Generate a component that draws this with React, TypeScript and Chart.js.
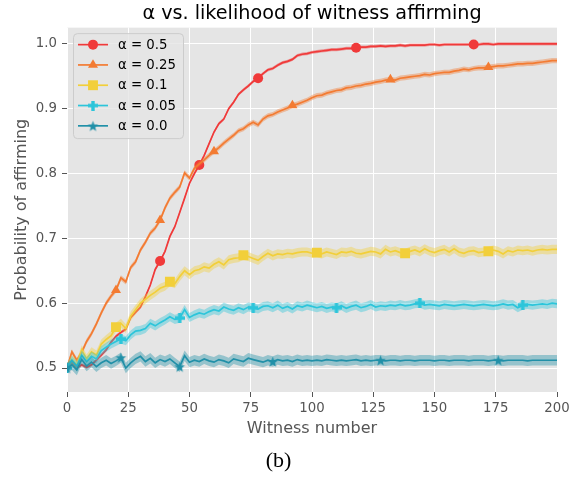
import React, { useEffect, useRef } from 'react';
import { Chart, registerables } from 'chart.js';
import { drawPoint } from 'chart.js/helpers';

Chart.register(...registerables);

// ---------- data ----------
const witnessNumbers: number[] = Array.from({ length: 101 }, (_, i) => i * 2);
const xTickValues = [0, 25, 50, 75, 100, 125, 150, 175, 200];
const yTickValues = [0.5, 0.6, 0.7, 0.8, 0.9, 1.0];

const alpha050 = [
  0.500, 0.508, 0.500, 0.505, 0.501, 0.505, 0.512, 0.520, 0.528, 0.540,
  0.549, 0.555, 0.560, 0.578, 0.586, 0.594, 0.610, 0.628, 0.652, 0.665,
  0.680, 0.703, 0.718, 0.740, 0.762, 0.785, 0.800, 0.813, 0.828, 0.846,
  0.864, 0.877, 0.884, 0.900, 0.910, 0.922, 0.929, 0.935, 0.942, 0.947,
  0.954, 0.960, 0.962, 0.967, 0.971, 0.973, 0.976, 0.982, 0.984, 0.985,
  0.987, 0.988, 0.989, 0.990, 0.991, 0.991, 0.992, 0.993, 0.993, 0.994,
  0.995, 0.995, 0.996, 0.996, 0.997, 0.996, 0.997, 0.997, 0.998, 0.997,
  0.998, 0.998, 0.998, 0.998, 0.999, 0.999, 0.998, 0.999, 0.999, 0.999,
  0.999, 0.999, 0.999, 0.999, 0.999, 1.000, 1.000, 0.999, 1.000, 1.000,
  1.000, 1.000, 1.000, 1.000, 1.000, 1.000, 1.000, 1.000, 1.000, 1.000,
  1.000,
];

const alpha025 = [
  0.500, 0.525, 0.512, 0.524, 0.541, 0.553, 0.568, 0.585, 0.600, 0.611,
  0.620, 0.639, 0.633, 0.655, 0.664, 0.682, 0.694, 0.708, 0.716, 0.728,
  0.747, 0.762, 0.771, 0.779, 0.801, 0.793, 0.808, 0.815, 0.821, 0.828,
  0.834, 0.840, 0.847, 0.853, 0.859, 0.866, 0.869, 0.875, 0.879, 0.875,
  0.884, 0.889, 0.891, 0.895, 0.898, 0.901, 0.905, 0.907, 0.910, 0.913,
  0.917, 0.920, 0.921, 0.924, 0.926, 0.928, 0.929, 0.932, 0.933, 0.935,
  0.936, 0.938, 0.939, 0.941, 0.942, 0.944, 0.945, 0.944, 0.947, 0.948,
  0.949, 0.950, 0.951, 0.953, 0.952, 0.954, 0.955, 0.956, 0.956, 0.958,
  0.959, 0.961, 0.960, 0.962, 0.963, 0.963, 0.964, 0.965, 0.966, 0.966,
  0.967, 0.968, 0.969, 0.969, 0.970, 0.970, 0.971, 0.972, 0.973, 0.974,
  0.974,
];

const alpha010 = [
  0.500, 0.513, 0.505, 0.528, 0.514, 0.525, 0.520, 0.537, 0.544, 0.550,
  0.563, 0.569, 0.561, 0.580, 0.590, 0.600, 0.606, 0.612, 0.617, 0.623,
  0.626, 0.633, 0.630, 0.641, 0.650, 0.644, 0.650, 0.652, 0.656, 0.654,
  0.660, 0.664, 0.659, 0.667, 0.669, 0.670, 0.674, 0.672, 0.669, 0.666,
  0.672, 0.677, 0.673, 0.676, 0.675, 0.677, 0.676, 0.678, 0.679, 0.679,
  0.677, 0.678, 0.676, 0.679, 0.677, 0.675, 0.679, 0.678, 0.680, 0.677,
  0.676, 0.678, 0.680, 0.679, 0.676, 0.683, 0.679, 0.681, 0.678, 0.677,
  0.680, 0.682, 0.679, 0.684, 0.680, 0.678, 0.681, 0.683, 0.679, 0.684,
  0.679, 0.677, 0.680, 0.681, 0.678, 0.679, 0.680, 0.682, 0.680, 0.676,
  0.681, 0.679, 0.682, 0.681, 0.682, 0.680, 0.682, 0.683, 0.682, 0.683,
  0.683,
];

const alpha005 = [
  0.500, 0.512, 0.503, 0.520, 0.510, 0.518, 0.514, 0.527, 0.532, 0.537,
  0.541, 0.545, 0.542, 0.551, 0.557, 0.558, 0.561, 0.569, 0.565, 0.570,
  0.574, 0.579, 0.575, 0.577, 0.590, 0.578, 0.582, 0.585, 0.583, 0.587,
  0.590, 0.588, 0.594, 0.591, 0.589, 0.593, 0.590, 0.594, 0.593, 0.591,
  0.595, 0.596, 0.593, 0.597, 0.592, 0.595, 0.591, 0.596, 0.594, 0.597,
  0.595, 0.593, 0.595, 0.592, 0.594, 0.593, 0.596, 0.592, 0.595, 0.597,
  0.593, 0.595, 0.598, 0.594, 0.596, 0.595, 0.597, 0.596, 0.598, 0.596,
  0.597, 0.599, 0.600, 0.597, 0.598, 0.597, 0.596, 0.598, 0.597, 0.596,
  0.597, 0.598, 0.597, 0.596, 0.597, 0.598, 0.597, 0.596, 0.597, 0.599,
  0.597, 0.598, 0.593, 0.597, 0.598, 0.597, 0.598, 0.599, 0.598, 0.600,
  0.599,
];

const alpha000 = [
  0.500, 0.505, 0.497, 0.513, 0.503, 0.509, 0.502, 0.508, 0.512, 0.507,
  0.511, 0.516, 0.500, 0.508, 0.514, 0.518, 0.510, 0.515, 0.508, 0.513,
  0.510, 0.514, 0.508, 0.502, 0.519, 0.509, 0.512, 0.510, 0.514, 0.511,
  0.509, 0.513, 0.511, 0.508, 0.514, 0.512, 0.510, 0.515, 0.513, 0.511,
  0.509, 0.512, 0.510, 0.513, 0.511, 0.512, 0.510, 0.513, 0.511, 0.512,
  0.511, 0.512, 0.511, 0.513, 0.512, 0.511, 0.512, 0.511, 0.512, 0.513,
  0.511, 0.512, 0.511, 0.512, 0.512, 0.511, 0.512, 0.512, 0.511, 0.512,
  0.512, 0.511, 0.512, 0.512, 0.512, 0.511, 0.512, 0.512, 0.511, 0.512,
  0.512, 0.512, 0.511, 0.512, 0.512, 0.512, 0.511, 0.512, 0.512, 0.511,
  0.512, 0.512, 0.512, 0.512, 0.511, 0.512, 0.512, 0.512, 0.512, 0.512,
  0.512,
];

const seriesValues = [alpha050, alpha025, alpha010, alpha005, alpha000];
const seriesLabels = ['α = 0.5', 'α = 0.25', 'α = 0.1', 'α = 0.05', 'α = 0.0'];
const seriesColors = ['#f03a3a', '#f37b32', '#f2cf3a', '#2cc5da', '#2190a8'];
const bandHalfWidths = [0.0025, 0.004, 0.007, 0.007, 0.008];
const markerPositions = [
  [38, 54, 78, 118, 166],
  [20, 38, 60, 92, 132, 172],
  [20, 42, 72, 102, 138, 172],
  [0, 22, 46, 76, 110, 144, 186],
  [0, 22, 46, 84, 128, 176],
];

const titleText = 'α vs. likelihood of witness affirming';
const xTitleText = 'Witness number';
const yTitleText = 'Probability of affirming';
const captionText = '(b)';

// ---------- helpers ----------
function hexToRgba(hex: string, a: number) {
  const n = parseInt(hex.slice(1), 16);
  return `rgba(${(n >> 16) & 255},${(n >> 8) & 255},${n & 255},${a})`;
}

function makePlus(color: string, size: number, arm: number) {
  const c = document.createElement('canvas');
  c.width = size;
  c.height = size;
  const g = c.getContext('2d')!;
  g.fillStyle = color;
  g.fillRect((size - arm) / 2, 0, arm, size);
  g.fillRect(0, (size - arm) / 2, size, arm);
  return c;
}

function makeStar(color: string, outer: number, inner: number) {
  const size = Math.ceil(outer * 2) + 1;
  const c = document.createElement('canvas');
  c.width = size;
  c.height = size;
  const g = c.getContext('2d')!;
  g.fillStyle = color;
  g.beginPath();
  for (let k = 0; k < 10; k++) {
    const r = k % 2 === 0 ? outer : inner;
    const a = -Math.PI / 2 + (k * Math.PI) / 5;
    g.lineTo(size / 2 + r * Math.cos(a), size / 2 + 0.6 + r * Math.sin(a));
  }
  g.closePath();
  g.fill();
  return c;
}

const FONT = 'DejaVu Sans';

export default function App() {
  const canvasRef = useRef<HTMLCanvasElement | null>(null);

  useEffect(() => {
    document.body.style.margin = '0';
    const canvas = canvasRef.current;
    if (!canvas) return;

    const pointStyles: any[] = [
      'circle',
      'triangle',
      'rect',
      makePlus(seriesColors[3], 10, 3.4),
      makeStar(seriesColors[4], 5.6, 2.3),
    ];
    const pointRadii = [5, 5.8, 7, 5, 5];

    const datasets: any[] = [];
    let drawIdx = 0;
    seriesValues.forEach((vals, s) => {
      const w = bandHalfWidths[s];
      const color = seriesColors[s];
      datasets.push({
        label: '_band_lo',
        data: vals.map((v, i) => ({ x: witnessNumbers[i], y: v - w })),
        borderWidth: 0,
        pointRadius: 0,
        fill: false,
        order: 1000 - drawIdx++,
      });
      datasets.push({
        label: '_band_hi',
        data: vals.map((v, i) => ({ x: witnessNumbers[i], y: v + w })),
        borderWidth: 0,
        pointRadius: 0,
        fill: '-1',
        backgroundColor: hexToRgba(color, 0.4),
        order: 1000 - drawIdx++,
      });
      datasets.push({
        label: seriesLabels[s],
        data: vals.map((v, i) => ({ x: witnessNumbers[i], y: v })),
        borderColor: color,
        backgroundColor: color,
        borderWidth: 1.7,
        fill: false,
        tension: 0,
        pointStyle: pointStyles[s],
        pointRadius: (ctx: any) =>
          markerPositions[s].includes(witnessNumbers[ctx.dataIndex]) ? pointRadii[s] : 0,
        pointBackgroundColor: color,
        pointBorderWidth: 0,
        order: 1000 - drawIdx++,
        _seriesIndex: s,
      });
    });

    const backgroundPlugin = {
      id: 'bgPlot',
      beforeDraw(chart: any) {
        const { ctx, chartArea } = chart;
        ctx.save();
        ctx.fillStyle = '#ffffff';
        ctx.fillRect(0, 0, chart.width, chart.height);
        ctx.fillStyle = '#e5e5e5';
        ctx.fillRect(chartArea.left, chartArea.top, chartArea.right - chartArea.left, chartArea.bottom - chartArea.top);
        ctx.restore();
      },
    };

    const legendPlugin = {
      id: 'boxLegend',
      afterDraw(chart: any) {
        const { ctx, chartArea } = chart;
        const items = chart.data.datasets.filter((d: any) => d._seriesIndex !== undefined);
        const left = chartArea.left + 6.5;
        const top = chartArea.top + 6;
        const width = 110;
        const rowH = 20.3;
        const height = 105;
        ctx.save();
        ctx.beginPath();
        if ((ctx as any).roundRect) (ctx as any).roundRect(left, top, width, height, 4);
        else ctx.rect(left, top, width, height);
        ctx.fillStyle = 'rgba(229,229,229,0.8)';
        ctx.fill();
        ctx.strokeStyle = '#cccccc';
        ctx.lineWidth = 1;
        ctx.stroke();
        items.forEach((d: any, i: number) => {
          const s = d._seriesIndex;
          const y = top + 11 + i * rowH;
          ctx.strokeStyle = d.borderColor;
          ctx.lineWidth = 1.7;
          ctx.beginPath();
          ctx.moveTo(left + 4.5, y);
          ctx.lineTo(left + 34.5, y);
          ctx.stroke();
          ctx.fillStyle = d.borderColor;
          drawPoint(ctx, { pointStyle: pointStyles[s], radius: pointRadii[s], rotation: 0, borderWidth: 0 } as any, left + 19.5, y);
          ctx.fillStyle = '#000000';
          ctx.font = `13.3px "${FONT}"`;
          ctx.textAlign = 'left';
          ctx.textBaseline = 'middle';
          ctx.fillText(d.label, left + 44.5, y + 0.5);
        });
        ctx.restore();
      },
    };

    const gridCommon = {
      color: '#ffffff',
      lineWidth: 1,
      drawTicks: true,
      tickColor: '#555555',
      tickLength: 5,
      tickWidth: 1,
    };

    const chart = new Chart(canvas, {
      type: 'line',
      data: { datasets },
      options: {
        animation: false,
        responsive: false,
        devicePixelRatio: 1,
        events: [],
        layout: { padding: { left: 0, right: 26, top: 0, bottom: 0 } },
        font: { family: FONT },
        plugins: {
          legend: { display: false },
          tooltip: { enabled: false },
          title: {
            display: true,
            text: titleText,
            color: '#000000',
            fullSize: false,
            font: { family: FONT, size: 19.2, weight: 'normal' },
            padding: { top: 2, bottom: 2.6 },
          },
          subtitle: {
            display: true,
            position: 'bottom',
            text: captionText,
            color: '#000000',
            fullSize: true,
            font: { family: 'Liberation Serif', size: 22, weight: 'normal' },
            padding: { top: 5.8, bottom: 2.8 },
          },
        },
        scales: {
          x: {
            type: 'linear',
            min: 0,
            max: 200,
            afterBuildTicks: (scale: any) => {
              scale.ticks = xTickValues.map((v) => ({ value: v }));
            },
            afterFit: (scale: any) => {
              scale.height = 50;
            },
            ticks: {
              color: '#555555',
              font: { family: FONT, size: 13.3 },
              padding: 4,
              maxRotation: 0,
              autoSkip: false,
              callback: (v: any) => String(v),
            },
            grid: gridCommon,
            border: { display: false },
            title: {
              display: true,
              text: xTitleText,
              color: '#555555',
              font: { family: FONT, size: 16 },
              padding: { top: 0, bottom: 3.4 },
            },
          },
          y: {
            type: 'linear',
            min: 0.463,
            max: 1.025,
            afterBuildTicks: (scale: any) => {
              scale.ticks = yTickValues.map((v) => ({ value: v }));
            },
            afterFit: (scale: any) => {
              scale.width = 67;
            },
            ticks: {
              color: '#555555',
              font: { family: FONT, size: 13.3 },
              padding: 5,
              callback: (v: any) => Number(v).toFixed(1),
            },
            grid: gridCommon,
            border: { display: false },
            title: {
              display: true,
              text: yTitleText,
              color: '#555555',
              font: { family: FONT, size: 16 },
              padding: { top: 12.4, bottom: 0 },
            },
          },
        },
      } as any,
      plugins: [backgroundPlugin, legendPlugin],
    });

    return () => chart.destroy();
  }, []);

  return (
    <div style={{ position: 'absolute', left: 0, top: 0, width: 583, height: 477 }}>
      <canvas ref={canvasRef} width={583} height={477} style={{ width: 583, height: 477, display: 'block' }} />
    </div>
  );
}
